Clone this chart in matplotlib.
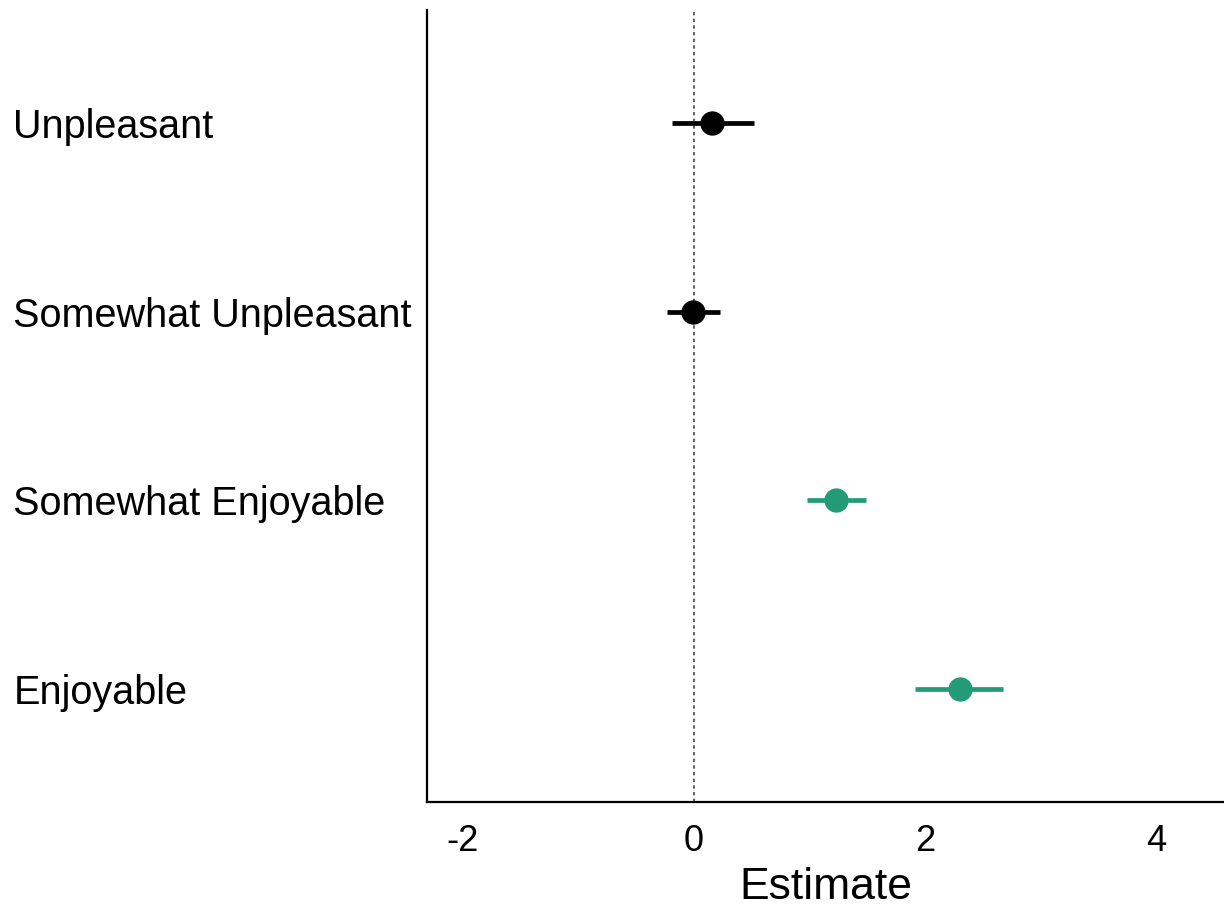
import matplotlib
matplotlib.use("Agg")
import matplotlib.pyplot as plt

plt.rcParams['font.family'] = ['Liberation Sans', 'DejaVu Sans']

# Coefficient estimates with confidence intervals
categories = ["Unpleasant", "Somewhat Unpleasant", "Somewhat Enjoyable", "Enjoyable"]
estimates = [0.16, -0.01, 1.23, 2.30]
ci_low = [-0.19, -0.23, 0.98, 1.91]
ci_high = [0.52, 0.23, 1.49, 2.68]
colors = ["black", "black", "#239b77", "#239b77"]
x_ticks = [-2, 0, 2, 4]

fig = plt.figure(figsize=(12.24, 9.07), dpi=100)
ax = fig.add_axes([0.349, 0.116, 0.651, 0.873])

ypos = [len(categories) - i for i in range(len(categories))]

ax.axvline(0, color="#444444", linestyle=(0, (2, 2)), linewidth=1.2, zorder=1)

for y, est, lo, hi, c in zip(ypos, estimates, ci_low, ci_high, colors):
    ax.plot([lo, hi], [y, y], color=c, linewidth=3.4, solid_capstyle="butt", zorder=2)
    ax.plot(est, y, "o", color=c, markersize=16.5, zorder=3)

ax.set_xlim(-2.31, 4.59)
ax.set_ylim(0.4, 4.6)
ax.set_xticks(x_ticks)
ax.set_xticklabels([str(t) for t in x_ticks])
ax.set_yticks(ypos)
ax.set_yticklabels(categories)
for lab in ax.get_yticklabels():
    lab.set_horizontalalignment("left")

ax.tick_params(axis="x", length=0, pad=16, labelsize=26)
ax.tick_params(axis="y", length=0, pad=298, labelsize=28.5)
ax.set_xlabel("Estimate", fontsize=32, labelpad=6)

for side in ["top", "right"]:
    ax.spines[side].set_visible(False)
for side in ["left", "bottom"]:
    ax.spines[side].set_linewidth(1.6)

fig.savefig("out.png", dpi=100)
